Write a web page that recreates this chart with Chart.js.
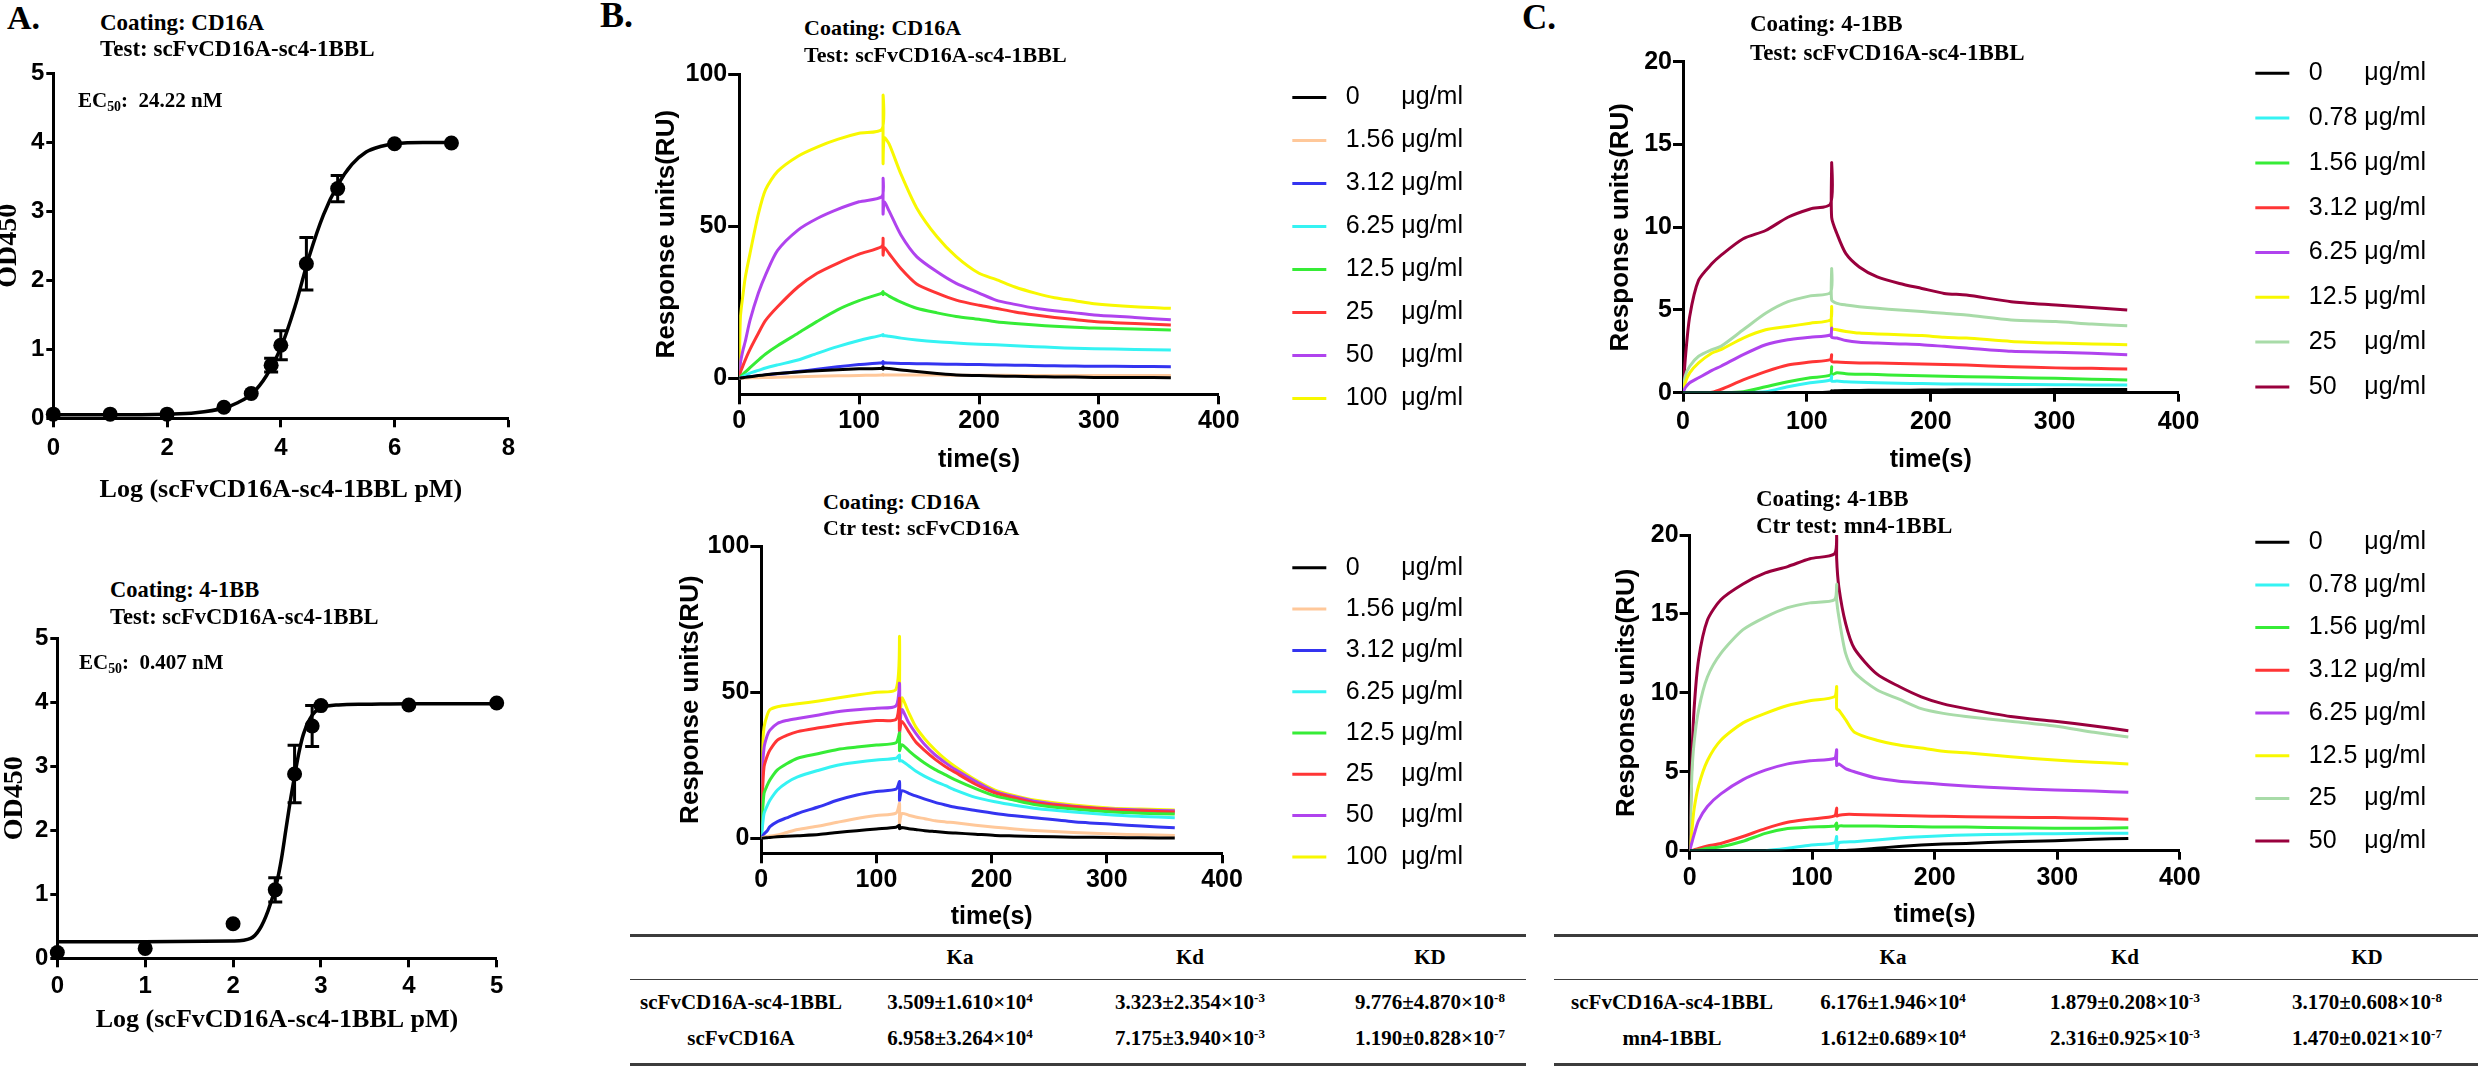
<!DOCTYPE html>
<html>
<head>
<meta charset="utf-8">
<title>Binding of scFvCD16A-sc4-1BBL: ELISA and SPR</title>
<script src="https://cdn.jsdelivr.net/npm/chart.js@4.4.1/dist/chart.umd.min.js"></script>
<style>
  html, body { margin: 0; padding: 0; background: #fff; }
  body { position: relative; width: 2478px; height: 1066px; overflow: hidden; }
  canvas { position: absolute; }
  .lbl { position: absolute; white-space: pre; line-height: 1; color: #000;
         font-family: "Liberation Serif", "Times New Roman", serif; font-weight: bold; }
  .cell { transform: translateX(-50%); font-size: 21px; }
  .rule { position: absolute; height: 0; border-top: 3px solid #3c3c3c; }
  .rule.thin { border-top-width: 1.5px; }
  sup { font-size: 0.62em; vertical-align: 0.55em; line-height: 0; }
  sub { font-size: 0.66em; vertical-align: -0.28em; line-height: 0; }
</style>
</head>
<body>
<canvas id="aTop"></canvas>
<canvas id="aBot"></canvas>
<canvas id="bTop"></canvas>
<canvas id="bBot"></canvas>
<canvas id="cTop"></canvas>
<canvas id="cBot"></canvas>
<script>
const SANS = '"Liberation Sans", Arial, Helvetica, sans-serif';
const SERIF = '"Liberation Serif", "Times New Roman", Times, serif';

// ---- A: ELISA, log concentration vs OD450 ----
const aTopX   = [0, 1, 2, 3, 3.48, 3.83, 4, 4.45, 5, 6, 7];
const aTopY   = [0.06, 0.06, 0.06, 0.16, 0.36, 0.77, 1.06, 2.24, 3.33, 3.98, 3.99];
const aTopErr = [0, 0, 0, 0, 0, 0.1, 0.21, 0.38, 0.19, 0, 0];
const aTopFitX = [0, 1, 2, 2.5, 3, 3.25, 3.5, 3.75, 4, 4.25, 4.5, 4.75, 5, 5.25, 5.5, 5.75, 6, 6.5, 7];
const aTopFitY = [0.05, 0.05, 0.06, 0.08, 0.15, 0.23, 0.36, 0.62, 1.02, 1.62, 2.35, 2.95, 3.38, 3.68, 3.86, 3.94, 3.98, 4.0, 4.0];

const aBotX   = [0, 1, 2, 2.48, 2.7, 2.9, 3, 4, 5];
const aBotY   = [0.09, 0.155, 0.54, 1.07, 2.88, 3.63, 3.95, 3.96, 3.99];
const aBotErr = [0, 0, 0, 0.19, 0.45, 0.32, 0, 0, 0];
const aBotFitX = [0, 1, 2, 2.2, 2.3, 2.4, 2.5, 2.55, 2.6, 2.65, 2.7, 2.75, 2.8, 2.9, 3, 3.2, 3.5, 4, 5];
const aBotFitY = [0.26, 0.26, 0.27, 0.31, 0.45, 0.75, 1.2, 1.55, 2.0, 2.45, 2.85, 3.22, 3.5, 3.8, 3.91, 3.96, 3.97, 3.98, 3.98];

const aTopXTicks = [0, 2, 4, 6, 8];
const aBotXTicks = [0, 1, 2, 3, 4, 5];
const odTicks = [0, 1, 2, 3, 4, 5];

// ---- B: SPR on CD16A (RU vs time) ----
const bConcs = ['0', '1.56', '3.12', '6.25', '12.5', '25', '50', '100'];
const bColors = ['#000000', '#FFC89A', '#3434F0', '#35F3F3', '#36EC36', '#FF3535', '#B043EE', '#F8F800'];

const bTopTime = [0, 1, 3, 5, 9, 16, 22, 32, 49, 65, 82, 100, 119, 120, 120, 121, 125, 135, 148, 165, 181, 200, 214, 230, 247, 263, 280, 296, 330, 360];
const bTop0    = [0, 0.1, 0.2, 0.3, 0.5, 0.9, 1.2, 1.6, 2.1, 2.5, 2.8, 3.1, 3.3, 3.8, 3.0, 3.3, 3.2, 2.7, 2.2, 1.6, 1.1, 0.9, 0.75, 0.65, 0.5, 0.45, 0.4, 0.3, 0.25, 0.2];
const bTop156  = [0, 0, 0.05, 0.1, 0.15, 0.2, 0.25, 0.35, 0.5, 0.65, 0.8, 0.95, 1.1, 1.3, 1.0, 1.1, 1.1, 1.1, 1.05, 1.05, 1.0, 1.0, 1.0, 0.95, 0.95, 0.95, 0.9, 0.9, 0.9, 0.9];
const bTop312  = [0, 0.1, 0.2, 0.3, 0.5, 0.8, 1.1, 1.5, 2.2, 3.0, 3.8, 4.5, 5.1, 5.5, 4.7, 5.1, 5.0, 4.9, 4.8, 4.7, 4.6, 4.5, 4.4, 4.3, 4.2, 4.1, 4.0, 3.95, 3.9, 3.8];
const bTop625  = [0, 0.2, 0.6, 1.0, 1.7, 2.6, 3.4, 4.4, 6.0, 8.2, 10.4, 12.4, 14.2, 14.4, 14.0, 14.1, 13.8, 13.2, 12.6, 12.0, 11.6, 11.2, 11.0, 10.7, 10.4, 10.1, 9.9, 9.7, 9.5, 9.3];
const bTop125  = [0, 0.5, 1.3, 2.0, 3.5, 6.0, 8.0, 10.7, 14.8, 18.7, 22.5, 25.5, 28.0, 28.5, 27.5, 28.0, 27.0, 25.0, 23.0, 21.5, 20.3, 19.4, 18.6, 18.0, 17.5, 17.1, 16.8, 16.5, 16.2, 15.9];
const bTop25   = [0, 2, 4, 6, 9.5, 14.8, 19, 23.5, 30, 34.5, 37.8, 40.8, 43.3, 46, 40.5, 43, 41, 36, 31, 28, 25.7, 24, 23, 21.8, 20.8, 20, 19.3, 18.7, 18, 17.5];
const bTop50   = [0, 5, 9, 12, 19, 28, 34, 42, 48.7, 52.5, 55.5, 58, 59.7, 65.7, 54, 58, 55, 47, 40, 35, 31.2, 28, 25.7, 24.3, 23, 22.2, 21.5, 20.8, 20, 19.2];
const bTop100  = [0, 20, 27, 33, 41, 54, 62, 68, 73, 76, 78.5, 80.5, 81.8, 93, 70.6, 79, 77, 67, 56, 46.5, 40, 34.5, 32.5, 30, 28, 26.5, 25.5, 24.5, 23.5, 23];

const bBotTime = [0, 1, 2.4, 5, 7.5, 14, 22, 31.5, 50, 66, 83, 100, 117, 120, 120, 122, 128, 134, 142, 151, 160, 168.5, 186, 203, 220, 237, 271, 305, 330, 359];
const bBot0    = [0, 0, 0.1, 0.2, 0.3, 0.5, 0.7, 0.9, 1.3, 2.0, 2.6, 3.2, 3.8, 4.5, 3.3, 3.7, 3.3, 3.0, 2.6, 2.3, 2.0, 1.8, 1.4, 1.0, 0.8, 0.6, 0.4, 0.25, 0.15, 0.1];
const bBot156  = [0, 0.2, 0.4, 0.6, 0.8, 1.1, 2.0, 3.0, 4.2, 5.5, 6.8, 7.8, 8.6, 12, 5, 8.5, 7.9, 7.3, 6.7, 6.0, 5.6, 5.3, 4.5, 3.8, 3.2, 2.7, 2.0, 1.5, 1.2, 1.0];
const bBot312  = [0, 0.8, 1.5, 2.5, 4.0, 5.7, 7.0, 8.5, 10.8, 13.0, 14.8, 16.0, 16.8, 19.4, 13.0, 16.3, 15.4, 14.5, 13.4, 12.3, 11.4, 10.6, 9.5, 8.5, 7.7, 7.0, 5.7, 4.8, 4.2, 3.6];
const bBot625  = [0, 4, 8.5, 11, 13, 16.5, 19, 21, 23.3, 25, 26, 26.8, 27.4, 28.5, 26.5, 26.5, 24.8, 23, 21.2, 19.5, 18, 16.5, 14, 12.5, 11.3, 10.3, 9, 8, 7.5, 7.0];
const bBot125  = [0, 8, 15.4, 18, 20, 23.4, 25.5, 27.4, 29, 30.4, 31.2, 31.9, 32.7, 36, 30, 32, 30, 28, 25.7, 23.5, 21.7, 20, 17, 14.5, 13, 11.6, 10, 9, 8.6, 8.3];
const bBot25   = [0, 15, 24.5, 28, 30.2, 33.6, 35.2, 36.5, 37.8, 38.8, 39.6, 40.3, 40.7, 47.9, 37, 40, 36.5, 33, 30, 27, 24.5, 22.5, 18.5, 15.5, 13.8, 12.2, 10.8, 9.8, 9.4, 9.0];
const bBot50   = [0, 22, 31, 35, 37, 39.3, 40.3, 41, 42.2, 43.3, 44, 44.5, 45.3, 53, 36, 44, 39.5, 36, 32, 28.5, 25.8, 23.5, 19.5, 16, 14.2, 12.7, 11, 10, 9.7, 9.4];
const bBot100  = [0, 30, 38, 42, 44, 45, 45.5, 46, 47, 48, 49, 50, 51, 69, 34.8, 48, 43, 38.2, 34, 30.2, 27, 24.5, 20, 16.5, 14.6, 13.1, 11.4, 10.3, 10, 9.7];

// ---- C: SPR on 4-1BB ----
const cConcs = ['0', '0.78', '1.56', '3.12', '6.25', '12.5', '25', '50'];
const cColors = ['#000000', '#35F3F3', '#36EC36', '#FF3535', '#B043EE', '#F8F800', '#A8DBA8', '#99003D'];

const cTopTime = [0, 1.8, 5.4, 12.6, 23.4, 30.6, 48.6, 66.7, 84.7, 102.7, 119, 120, 120, 124.3, 131.5, 142.3, 156.8, 174.8, 192.8, 210.8, 228.8, 264.9, 300.9, 330, 358.6];
const cTop0    = [0, 0, 0, 0, 0, 0, 0, 0, 0, 0, 0.05, 0.12, 0.1, 0.12, 0.13, 0.14, 0.15, 0.15, 0.16, 0.17, 0.18, 0.18, 0.19, 0.2, 0.2];
const cTop078  = [0, 0, 0, 0, 0, 0, 0, 0.06, 0.36, 0.6, 0.77, 1.0, 0.7, 0.7, 0.66, 0.63, 0.6, 0.57, 0.55, 0.53, 0.52, 0.5, 0.48, 0.47, 0.46];
const cTop156  = [0, 0, 0, 0, 0, 0, 0.06, 0.36, 0.66, 0.9, 1.07, 1.57, 1.1, 1.2, 1.15, 1.12, 1.1, 1.05, 1.02, 1.0, 0.97, 0.92, 0.87, 0.82, 0.77];
const cTop312  = [0, 0, 0, 0, 0.03, 0.2, 0.77, 1.27, 1.67, 1.85, 2.0, 2.3, 1.9, 1.85, 1.82, 1.8, 1.8, 1.77, 1.73, 1.7, 1.67, 1.57, 1.5, 1.47, 1.43];
const cTop625  = [0, 0.3, 0.6, 0.9, 1.35, 1.6, 2.3, 2.9, 3.2, 3.35, 3.5, 3.9, 3.35, 3.3, 3.15, 3.05, 3.0, 2.95, 2.9, 2.8, 2.7, 2.5, 2.45, 2.38, 2.3];
const cTop125  = [0, 0.6, 1.2, 1.8, 2.4, 2.6, 3.3, 3.8, 4.0, 4.2, 4.4, 5.2, 3.9, 3.8, 3.7, 3.6, 3.55, 3.5, 3.45, 3.35, 3.3, 3.1, 3.0, 2.95, 2.9];
const cTop25   = [0, 1.0, 1.6, 2.2, 2.6, 2.8, 3.8, 4.8, 5.5, 5.85, 6.05, 7.5, 5.6, 5.4, 5.3, 5.2, 5.1, 5.0, 4.9, 4.8, 4.7, 4.4, 4.3, 4.15, 4.05];
const cTop50   = [0, 2.0, 4.6, 6.8, 7.8, 8.3, 9.3, 9.8, 10.6, 11.1, 11.4, 13.9, 10.6, 9.6, 8.4, 7.6, 7.0, 6.6, 6.3, 6.0, 5.9, 5.5, 5.3, 5.15, 5.0];

const cBotTime = [0, 1.8, 3.6, 7.3, 14.5, 25.5, 43.6, 61.8, 80, 98.2, 118.2, 120, 120, 121.8, 127.3, 134.5, 152.7, 171, 189, 207, 225.5, 262, 298, 330, 358];
const cBot0    = [0, 0, 0, 0, 0, 0, 0, 0, 0, 0, 0, 0, 0, 0, 0.02, 0.04, 0.15, 0.27, 0.36, 0.42, 0.46, 0.57, 0.63, 0.72, 0.78];
const cBot078  = [0, 0, 0, 0, 0, 0, 0, 0, 0.15, 0.35, 0.5, 0.9, 0.15, 0.5, 0.55, 0.57, 0.68, 0.8, 0.89, 0.95, 1.0, 1.05, 1.08, 1.1, 1.1];
const cBot156  = [0, 0, 0.02, 0.04, 0.15, 0.25, 0.6, 1.1, 1.4, 1.5, 1.56, 1.75, 1.35, 1.56, 1.56, 1.56, 1.56, 1.54, 1.52, 1.5, 1.5, 1.45, 1.42, 1.43, 1.45];
const cBot312  = [0, 0, 0.05, 0.15, 0.3, 0.46, 0.9, 1.4, 1.8, 2.0, 2.2, 2.7, 2.2, 2.25, 2.3, 2.3, 2.26, 2.23, 2.2, 2.18, 2.15, 2.12, 2.1, 2.05, 2.0];
const cBot625  = [0, 0.5, 1.0, 1.9, 2.8, 3.6, 4.5, 5.1, 5.5, 5.7, 5.85, 6.4, 5.4, 5.5, 5.2, 5.0, 4.6, 4.4, 4.3, 4.2, 4.1, 3.95, 3.85, 3.78, 3.7];
const cBot125  = [0, 1.2, 2.6, 4.1, 5.7, 7.0, 8.1, 8.7, 9.2, 9.5, 9.75, 10.4, 9.0, 8.9, 8.3, 7.5, 7.0, 6.7, 6.5, 6.3, 6.2, 5.95, 5.75, 5.6, 5.5];
const cBot25   = [0, 4.7, 6.8, 8.9, 11, 12.5, 14.0, 14.8, 15.4, 15.7, 15.9, 16.9, 15.9, 14.8, 12.5, 11.3, 10.2, 9.6, 9.0, 8.7, 8.5, 8.2, 7.9, 7.5, 7.2];
const cBot50   = [0, 5.7, 8.9, 12.1, 14.6, 15.9, 16.9, 17.6, 18.0, 18.5, 18.8, 20, 18.5, 16.7, 14.4, 12.8, 11.2, 10.4, 9.75, 9.3, 9.0, 8.5, 8.2, 7.9, 7.6];

const timeTicks = [0, 100, 200, 300, 400];
const bRuTicks = [0, 50, 100];
const cRuTicks = [0, 5, 10, 15, 20];

// ---- kinetics tables ----
const kinCols = ['Ka', 'Kd', 'KD'];
const bNames = ['scFvCD16A-sc4-1BBL', 'scFvCD16A'];
const bKa = ['3.509±1.610×10^4', '6.958±3.264×10^4'];
const bKd = ['3.323±2.354×10^-3', '7.175±3.940×10^-3'];
const bKD = ['9.776±4.870×10^-8', '1.190±0.828×10^-7'];
const cNames = ['scFvCD16A-sc4-1BBL', 'mn4-1BBL'];
const cKa = ['6.176±1.946×10^4', '1.612±0.689×10^4'];
const cKd = ['1.879±0.208×10^-3', '2.316±0.925×10^-3'];
const cKD = ['3.170±0.608×10^-8', '1.470±0.021×10^-7'];

// ---------------------------------------------------------------
function place(id, left, top, w, h) {
  const c = document.getElementById(id);
  c.width = w; c.height = h;
  c.style.left = left + 'px'; c.style.top = top + 'px';
  c.style.width = w + 'px'; c.style.height = h + 'px';
  return c;
}

const fixedTicks = values => s => { s.ticks = values.map(v => ({ value: v })); };

function axisStyle(tickLen) {
  return {
    border: { display: true, color: '#000', width: 3 },
    grid: { display: true, drawOnChartArea: false, drawTicks: true, tickLength: tickLen,
            tickColor: '#000', tickWidth: 3, color: '#000' }
  };
}

// empty scale used only to reserve space in the layout
function spacer(position, sizeFn) {
  return {
    type: 'linear', position, display: true,
    grid: { display: false }, border: { display: false },
    ticks: { display: false }, title: { display: false },
    afterFit: s => { if (s.isHorizontal()) s.height = sizeFn(s); else s.width = sizeFn(s); }
  };
}

const errorBars = {
  id: 'errorBars',
  afterDatasetsDraw(chart, args, opts) {
    const err = opts.err;
    if (!err) return;
    const ds = chart.data.datasets[1];
    const { x, y } = chart.scales;
    const ctx = chart.ctx;
    ctx.save();
    ctx.strokeStyle = '#000';
    ctx.lineWidth = 3;
    ds.data.forEach((p, i) => {
      if (!err[i]) return;
      const px = x.getPixelForValue(p.x);
      const top = y.getPixelForValue(p.y + err[i]);
      const bot = y.getPixelForValue(p.y - err[i]);
      ctx.beginPath();
      ctx.moveTo(px, top); ctx.lineTo(px, bot);
      ctx.moveTo(px - 7, top); ctx.lineTo(px + 7, top);
      ctx.moveTo(px - 7, bot); ctx.lineTo(px + 7, bot);
      ctx.stroke();
    });
    ctx.restore();
  }
};

function elisaChart(id, g, ptX, ptY, ptErr, fitX, fitY, xTicks, xMax, xTitle) {
  const cLeft = Math.round(g.yTitleX - 16.8);
  const cTop = Math.round(g.plotT - 15);
  const cRight = Math.round(g.plotR + 22);
  const cBottom = Math.round(g.xTitleY + 15.6);
  const c = place(id, cLeft, cTop, cRight - cLeft, cBottom - cTop);
  const tickFont = { family: SANS, size: 24, weight: 'bold' };
  return new Chart(c, {
    type: 'line',
    data: { datasets: [
      { data: fitX.map((x, i) => ({ x, y: fitY[i] })), borderColor: '#000', borderWidth: 3.5,
        pointRadius: 0, cubicInterpolationMode: 'monotone', clip: false },
      { data: ptX.map((x, i) => ({ x, y: ptY[i] })), showLine: false, pointRadius: 7.5,
        pointBackgroundColor: '#000', pointBorderColor: '#000', pointBorderWidth: 0, clip: false }
    ] },
    options: {
      responsive: false, animation: false, devicePixelRatio: 1,
      layout: { padding: { top: g.plotT - cTop, right: cRight - g.plotR, left: 0, bottom: 0 } },
      plugins: { legend: { display: false }, tooltip: { enabled: false }, errorBars: { err: ptErr } },
      scales: {
        x: Object.assign(axisStyle(9), {
          type: 'linear', min: 0, max: xMax, afterBuildTicks: fixedTicks(xTicks),
          ticks: { font: tickFont, color: '#000', padding: g.xTickY - g.plotB - 9 - 14.4, maxRotation: 0, autoSkip: false },
          title: { display: true, text: xTitle, color: '#000', padding: 0, font: { family: SERIF, size: 26, weight: 'bold' } },
          afterFit: s => { s.height = cBottom - g.plotB; }
        }),
        y: Object.assign(axisStyle(7), {
          type: 'linear', min: 0, max: 5, afterBuildTicks: fixedTicks(odTicks),
          ticks: { font: tickFont, color: '#000', padding: 2 },
          title: { display: true, text: 'OD450', color: '#000', padding: 0, font: { family: SERIF, size: 28, weight: 'bold' } },
          afterFit: s => { s.width = g.plotL - cLeft; }
        })
      }
    },
    plugins: [errorBars]
  });
}

function legendLabel(conc) {
  // in Arial metrics a digit is two spaces wide; pad so that "μg/ml" lines up
  const units = [...conc].reduce((n, ch) => n + (ch === '.' ? 1 : 2), 0);
  return ' ' + conc + ' '.repeat(1 + 7 - units) + 'μg/ml';
}

function sprChart(id, g, times, series, concs, colors, yTicks) {
  const pad = g.rowGap - 25;
  const labels = concs.map(legendLabel);
  const cLeft = Math.round(g.yTitleX - 15.6);
  const cTop = Math.round(g.row1 - pad - 12.5 - 10);
  const cBottom = Math.round(g.xTitleY + 15);
  const tickFont = { family: SANS, size: 25, weight: 'bold' };

  const build = cRight => {
    const c = place(id, cLeft, cTop, cRight - cLeft, cBottom - cTop);
    return new Chart(c, {
      type: 'line',
      data: { datasets: series.map((vals, i) => ({
        label: labels[i],
        data: times.map((t, j) => ({ x: t, y: vals[j] })),
        borderColor: colors[i], backgroundColor: colors[i],
        borderWidth: 3, pointRadius: 0, pointHoverRadius: 0, tension: 0.25,
        borderJoinStyle: 'round', xAxisID: 'x', yAxisID: 'y'
      })) },
      options: {
        responsive: false, animation: false, devicePixelRatio: 1,
        layout: { padding: { top: 10, left: 0, right: 0, bottom: 0 } },
        plugins: {
          tooltip: { enabled: false },
          legend: {
            position: 'right', align: 'start', maxWidth: 600,
            labels: { usePointStyle: true, pointStyle: 'line', pointStyleWidth: 34, padding: pad,
                      color: '#000', font: { family: SANS, size: 25 } }
          }
        },
        scales: {
          x: Object.assign(axisStyle(g.xTickLen), {
            type: 'linear', min: 0, max: 400, afterBuildTicks: fixedTicks(timeTicks),
            ticks: { font: tickFont, color: '#000', padding: g.xTickY - g.plotB - g.xTickLen - 15, maxRotation: 0, autoSkip: false },
            title: { display: true, text: 'time(s)', color: '#000', padding: 0, font: { family: SANS, size: 25, weight: 'bold' } },
            afterFit: s => { s.height = cBottom - g.plotB; }
          }),
          y: Object.assign(axisStyle(g.yTickLen), {
            type: 'linear', min: g.yMin, max: g.yMax, afterBuildTicks: fixedTicks(yTicks),
            ticks: { font: tickFont, color: '#000', padding: 1 },
            title: { display: true, text: 'Response units(RU)', color: '#000', padding: 0, font: { family: SANS, size: 26, weight: 'bold' } },
            afterFit: s => { s.width = g.plotL - cLeft; }
          }),
          padTop: spacer('top', () => g.plotT - cTop - 10),
          padRight: spacer('right', s => Math.max(0, s.chart.width - s.chart.legend.width - (g.plotR - cLeft)))
        }
      }
    });
  };

  let chart = build(Math.round(g.boxX + 260));
  const want = Math.round(g.boxX - pad + chart.legend.width);
  if (want !== cLeft + chart.width) {
    chart.destroy();
    chart = build(want);
  }
  return chart;
}

// ---------------------------------------------------------------
elisaChart('aTop', { plotL: 53.3, plotR: 508.3, plotT: 71.7, plotB: 418.3, yTitleX: 8.5, xTickY: 448.3, xTitleY: 490 },
  aTopX, aTopY, aTopErr, aTopFitX, aTopFitY, aTopXTicks, 8, 'Log (scFvCD16A-sc4-1BBL pM)');
elisaChart('aBot', { plotL: 57.3, plotR: 496.7, plotT: 636.7, plotB: 958.3, yTitleX: 15, xTickY: 986.7, xTitleY: 1020 },
  aBotX, aBotY, aBotErr, aBotFitX, aBotFitY, aBotXTicks, 5, 'Log (scFvCD16A-sc4-1BBL pM)');

sprChart('bTop', { plotL: 739.2, plotR: 1218.8, plotT: 74, plotB: 394.3, yMin: -5.26, yMax: 100, yTitleX: 667,
                   xTickY: 421, xTitleY: 460, boxX: 1292, row1: 97, rowGap: 43, yTickLen: 11, xTickLen: 10 },
  bTopTime, [bTop0, bTop156, bTop312, bTop625, bTop125, bTop25, bTop50, bTop100], bConcs, bColors, bRuTicks);
sprChart('bBot', { plotL: 761.3, plotR: 1222, plotT: 546, plotB: 853.3, yMin: -5.13, yMax: 100, yTitleX: 691,
                   xTickY: 880, xTitleY: 917, boxX: 1292, row1: 568, rowGap: 41.3, yTickLen: 11, xTickLen: 10 },
  bBotTime, [bBot0, bBot156, bBot312, bBot625, bBot125, bBot25, bBot50, bBot100], bConcs, bColors, bRuTicks);
sprChart('cTop', { plotL: 1683, plotR: 2178.5, plotT: 61.7, plotB: 392.7, yMin: 0, yMax: 20, yTitleX: 1620.4,
                   xTickY: 421.7, xTitleY: 460, boxX: 2255, row1: 73.3, rowGap: 44.8, yTickLen: 10, xTickLen: 9 },
  cTopTime, [cTop0, cTop078, cTop156, cTop312, cTop625, cTop125, cTop25, cTop50], cConcs, cColors, cRuTicks);
sprChart('cBot', { plotL: 1689.6, plotR: 2179.8, plotT: 535, plotB: 850.7, yMin: 0, yMax: 20, yTitleX: 1627,
                   xTickY: 878, xTitleY: 915, boxX: 2255, row1: 541.7, rowGap: 42.7, yTickLen: 10, xTickLen: 9 },
  cBotTime, [cBot0, cBot078, cBot156, cBot312, cBot625, cBot125, cBot25, cBot50], cConcs, cColors, cRuTicks);

// ---- text around the charts ----
function addText(html, x, cy, size, extraClass) {
  const d = document.createElement('div');
  d.className = 'lbl' + (extraClass ? ' ' + extraClass : '');
  d.style.left = x + 'px';
  d.style.top = (cy - size / 2) + 'px';
  d.style.fontSize = size + 'px';
  d.innerHTML = html;
  document.body.appendChild(d);
}
const sci = s => s.replace(/\^(-?\d+)/, '<sup>$1</sup>');

const notes = [
  ['A.', 7, 18, 34], ['B.', 600, 15, 36], ['C.', 1522, 17, 35],
  ['Coating: CD16A', 100, 22, 23], ['Test: scFvCD16A-sc4-1BBL', 100, 48, 23],
  ['EC<sub>50</sub>:  24.22 nM', 78, 100, 21],
  ['Coating: 4-1BB', 110, 590, 22.5], ['Test: scFvCD16A-sc4-1BBL', 110, 617, 22.5],
  ['EC<sub>50</sub>:  0.407 nM', 79, 662, 21],
  ['Coating: CD16A', 804, 28, 22], ['Test: scFvCD16A-sc4-1BBL', 804, 55, 22],
  ['Coating: CD16A', 823, 502, 22], ['Ctr test: scFvCD16A', 823, 528, 22],
  ['Coating: 4-1BB', 1750, 23, 23], ['Test: scFvCD16A-sc4-1BBL', 1750, 52, 23],
  ['Coating: 4-1BB', 1756, 498, 23], ['Ctr test: mn4-1BBL', 1756, 525, 23]
];
notes.forEach(n => addText(n[0], n[1], n[2], n[3]));

function rule(x1, x2, y, thin) {
  const d = document.createElement('div');
  d.className = 'rule' + (thin ? ' thin' : '');
  d.style.left = x1 + 'px';
  d.style.width = (x2 - x1) + 'px';
  d.style.top = (y - (thin ? 0.75 : 1.5)) + 'px';
  document.body.appendChild(d);
}

function kinTable(x1, x2, nameX, colX, names, ka, kd, kD) {
  rule(x1, x2, 935); rule(x1, x2, 980, true); rule(x1, x2, 1064.5);
  kinCols.forEach((h, i) => addText(h, colX[i], 957, 21, 'cell'));
  const rowsY = [1002, 1038];
  names.forEach((nm, r) => {
    addText(nm, nameX, rowsY[r], 21, 'cell');
    [ka, kd, kD].forEach((col, i) => addText(sci(col[r]), colX[i], rowsY[r], 21, 'cell'));
  });
}
kinTable(630, 1526, 741, [960, 1190, 1430], bNames, bKa, bKd, bKD);
kinTable(1554, 2478, 1672, [1893, 2125, 2367], cNames, cKa, cKd, cKD);
</script>
</body>
</html>
